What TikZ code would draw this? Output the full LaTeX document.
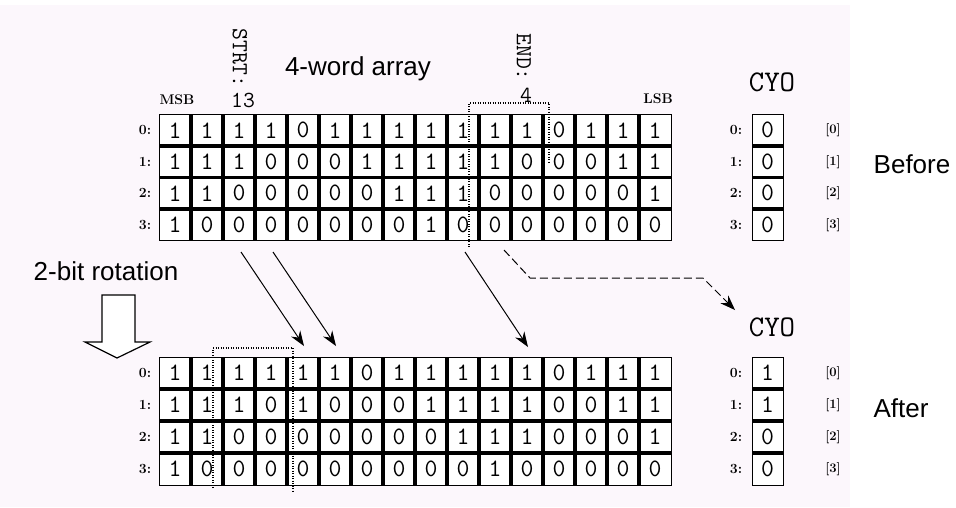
\documentclass[tikz,border=0pt]{standalone}
\usepackage{fontspec}
\newfontfamily\sans{Liberation Sans}
\usetikzlibrary{arrows.meta}
\definecolor{bg}{HTML}{FCF7FC}
\begin{document}
\begin{tikzpicture}[x=1pt,y=-1pt,
  cell/.style={draw,line width=1pt,fill=white,minimum width=32pt,minimum height=31.5pt,inner sep=0pt,font=\ttfamily\fontsize{25}{25}\selectfont},
  bcell/.style={cell,minimum height=32pt},
  sep/.style={line width=3.2pt},
  lab/.style={font=\bfseries\fontsize{14}{14}\selectfont,inner sep=0pt},
  idx/.style={font=\bfseries\fontsize{13}{13}\selectfont,inner sep=0pt},
  big/.style={font=\sans\fontsize{26}{26}\selectfont,inner sep=0pt},
  mono/.style={font=\ttfamily\fontsize{23}{23}\selectfont,inner sep=0pt},
  cyo/.style={font=\ttfamily\fontsize{30}{30}\selectfont,inner sep=0pt},
  dot/.style={line width=1.1pt,dash pattern=on 1pt off 1.5pt},
  arr/.style={line width=1pt,-{Stealth[length=15pt,width=11pt]}},
  darr/.style={arr,dash pattern=on 8pt off 4pt},
]
\useasboundingbox (0,0) rectangle (956,507);
\fill[white] (0,0) rectangle (956,507);
\fill[bg] (0,5) rectangle (850,507);

% ---- top table (before)
\foreach \row [count=\r from 0] in {{1,1,1,1,0,1,1,1,1,1,1,1,0,1,1,1},{1,1,1,0,0,0,1,1,1,1,1,0,0,0,1,1},{1,1,0,0,0,0,0,1,1,1,0,0,0,0,0,1},{1,0,0,0,0,0,0,0,1,0,0,0,0,0,0,0}}{
  \foreach \v [count=\c from 0] in \row {
    \node[cell] (t-\r-\c) at ({175+32*\c},{130.25+31.5*\r}) {\v};
  }
  \node[lab] (tl-\r) at (145,{130.25+31.5*\r}) {\r:};
}
\foreach \k in {1,...,15} \draw[sep] ({159+32*\k},114.5) -- ({159+32*\k},240.5);
\foreach \k in {1,2,3} \draw[sep] (159,{114.5+31.5*\k}) -- (671,{114.5+31.5*\k});

% ---- bottom table (after)
\foreach \row [count=\r from 0] in {{1,1,1,1,1,1,0,1,1,1,1,1,0,1,1,1},{1,1,1,0,1,0,0,0,1,1,1,1,0,0,1,1},{1,1,0,0,0,0,0,0,0,1,1,1,0,0,0,1},{1,0,0,0,0,0,0,0,0,0,1,0,0,0,0,0}}{
  \foreach \v [count=\c from 0] in \row {
    \node[bcell] (b-\r-\c) at ({175+32*\c},{373+32*\r}) {\v};
  }
  \node[lab] (bl-\r) at (145,{373+32*\r}) {\r:};
}
\foreach \k in {1,...,15} \draw[sep] ({159+32*\k},357) -- ({159+32*\k},485);
\foreach \k in {1,2,3} \draw[sep] (159,{357+32*\k}) -- (671,{357+32*\k});

% ---- CYO before
\node[cyo] (cyot) at (772,82) {CYO};
\foreach \v [count=\r from 0] in {0,0,0,0}{
  \node[cell,minimum width=31pt] (ct-\r) at (767.5,{130.25+31.5*\r}) {\v};
  \node[lab] (ctl-\r) at (736,{130.25+31.5*\r}) {\r:};
  \node[idx] (cti-\r) at (833,{130.25+31.5*\r}) {[\r]};
}
\foreach \k in {1,2,3} \draw[sep] (752,{114.5+31.5*\k}) -- (783,{114.5+31.5*\k});

% ---- CYO after
\node[cyo] (cyob) at (772,327) {CYO};
\foreach \v [count=\r from 0] in {1,1,0,0}{
  \node[bcell,minimum width=31pt] (cb-\r) at (767.5,{373+32*\r}) {\v};
  \node[lab] (cbl-\r) at (736,{373+32*\r}) {\r:};
  \node[idx] (cbi-\r) at (833,{373+32*\r}) {[\r]};
}
\foreach \k in {1,2,3} \draw[sep] (752,{357+32*\k}) -- (783,{357+32*\k});

% ---- labels
\node[mono,rotate=-90] (strt) at (240,58) {STRT:};
\node[mono] (strtv) at (243,100) {13};
\node[mono,rotate=-90] (endl) at (524,57) {END:};
\node[mono] (endv) at (526,95) {4};
\node[big] (title) at (358,69) {4-word array};
\node[lab] (msb) at (177,100) {MSB};
\node[lab] (lsb) at (658,99) {LSB};
\node[big] (rot) at (106,271) {2-bit rotation};
\node[big] (before) at (912,164) {Before};
\node[big] (after) at (901,408) {After};

% ---- dotted brackets
\draw[dot] (469,247) -- (469,103) -- (549,103) -- (549,163);
\draw[dot] (213,488) -- (213,348) -- (293,348) -- (293,493);

% ---- block arrow
\draw[line width=1.2pt,fill=white] (102,295) -- (135,295) -- (135,342) -- (150,342) -- (117,358) -- (85,342) -- (102,342) -- cycle;

% ---- arrows
\coordinate (a1s) at (241,252); \coordinate (a1e) at (304,346);
\coordinate (a2s) at (273,252); \coordinate (a2e) at (336,346);
\coordinate (a3s) at (465,252); \coordinate (a3e) at (528,347);
\draw[arr] (a1s) -- (a1e);
\draw[arr] (a2s) -- (a2e);
\draw[arr] (a3s) -- (a3e);
\coordinate (d1) at (504,250); \coordinate (d2) at (530,278);
\coordinate (d3) at (703,278); \coordinate (d4) at (735,310);
\draw[darr] (d1) -- (d2) -- (d3) -- (d4);
\end{tikzpicture}
\end{document}
